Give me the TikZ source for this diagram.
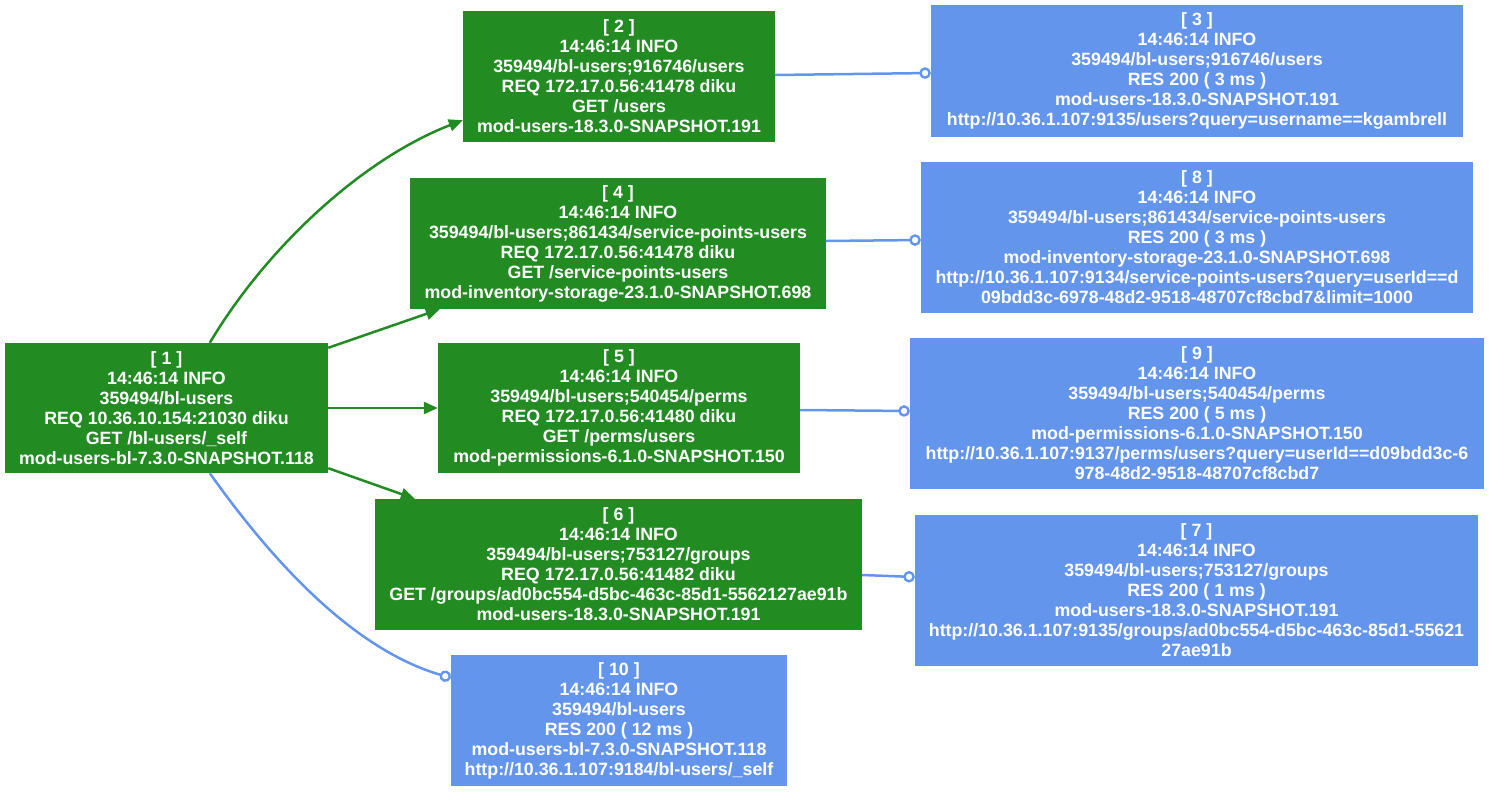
\documentclass[tikz,border=0pt]{standalone}
\usepackage{fontspec}
\setmainfont{Liberation Sans}
\usetikzlibrary{arrows.meta,calc}
\definecolor{reqgreen}{HTML}{228B22}
\definecolor{resblue}{HTML}{6495ED}
\tikzset{
  box/.style={draw=none, inner sep=0pt, text=white, align=center,
    font=\fontsize{17.8}{20}\selectfont\bfseries},
  req/.style={box, fill=reqgreen},
  res/.style={box, fill=resblue},
  call/.style={draw=reqgreen, line width=2.5pt, -{Triangle[length=14pt,width=12pt]}},
  reply/.style={draw=resblue, line width=2.5pt, -{Circle[open,length=11.5pt,width=11.5pt,line width=2.4pt]}},
}
\begin{document}
\begin{tikzpicture}[x=1pt,y=-1pt]
\useasboundingbox (0,0) rectangle (1489,792);
\node[req, minimum width=323pt, minimum height=130pt] (n1) at (166.5,408)
  {[ 1 ]\\14:46:14 INFO\\359494/bl-users\\REQ 10.36.10.154:21030 diku\\GET /bl-users/\_self\\mod-users-bl-7.3.0-SNAPSHOT.118};
\node[req, minimum width=312pt, minimum height=131pt] (n2) at (619,76.5)
  {[ 2 ]\\14:46:14 INFO\\359494/bl-users;916746/users\\REQ 172.17.0.56:41478 diku\\GET /users\\mod-users-18.3.0-SNAPSHOT.191};
\node[res, minimum width=532pt, minimum height=132pt] (n3) at (1197,71)
  {[ 3 ]\\14:46:14 INFO\\359494/bl-users;916746/users\\RES 200 ( 3 ms )\\mod-users-18.3.0-SNAPSHOT.191\\http://10.36.1.107:9135/users?query=username==kgambrell};
\node[req, minimum width=416pt, minimum height=131pt] (n4) at (618,243.5)
  {[ 4 ]\\14:46:14 INFO\\359494/bl-users;861434/service-points-users\\REQ 172.17.0.56:41478 diku\\GET /service-points-users\\mod-inventory-storage-23.1.0-SNAPSHOT.698};
\node[res, minimum width=552pt, minimum height=151pt] (n8) at (1197,237.5)
  {[ 8 ]\\14:46:14 INFO\\359494/bl-users;861434/service-points-users\\RES 200 ( 3 ms )\\mod-inventory-storage-23.1.0-SNAPSHOT.698\\http://10.36.1.107:9134/service-points-users?query=userId==d\\09bdd3c-6978-48d2-9518-48707cf8cbd7\&limit=1000};
\node[req, minimum width=362pt, minimum height=130pt] (n5) at (619,408)
  {[ 5 ]\\14:46:14 INFO\\359494/bl-users;540454/perms\\REQ 172.17.0.56:41480 diku\\GET /perms/users\\mod-permissions-6.1.0-SNAPSHOT.150};
\node[res, minimum width=574pt, minimum height=151pt] (n9) at (1197,413.5)
  {[ 9 ]\\14:46:14 INFO\\359494/bl-users;540454/perms\\RES 200 ( 5 ms )\\mod-permissions-6.1.0-SNAPSHOT.150\\http://10.36.1.107:9137/perms/users?query=userId==d09bdd3c-6\\978-48d2-9518-48707cf8cbd7};
\node[req, minimum width=487pt, minimum height=131pt] (n6) at (618.5,564.5)
  {[ 6 ]\\14:46:14 INFO\\359494/bl-users;753127/groups\\REQ 172.17.0.56:41482 diku\\GET /groups/ad0bc554-d5bc-463c-85d1-5562127ae91b\\mod-users-18.3.0-SNAPSHOT.191};
\node[res, minimum width=563pt, minimum height=151pt] (n7) at (1196.5,590.5)
  {[ 7 ]\\14:46:14 INFO\\359494/bl-users;753127/groups\\RES 200 ( 1 ms )\\mod-users-18.3.0-SNAPSHOT.191\\http://10.36.1.107:9135/groups/ad0bc554-d5bc-463c-85d1-55621\\27ae91b};
\node[res, minimum width=336pt, minimum height=131pt] (n10) at (619,720.5)
  {[ 10 ]\\14:46:14 INFO\\359494/bl-users\\RES 200 ( 12 ms )\\mod-users-bl-7.3.0-SNAPSHOT.118\\http://10.36.1.107:9184/bl-users/\_self};
% calls
\draw[call] ($(n1.north west)+(205,0)$) .. controls (265,250) and (360,160) .. ($(n2.south west)+(0,-22)$);
\draw[call] ($(n1.north east)+(0,5)$) -- ($(n4.south west)+(30,0)$);
\draw[call] (n1.east) -- (n5.west);
\draw[call] ($(n1.south east)+(0,-5)$) -- ($(n6.north west)+(40,0)$);
% replies
\draw[reply] ($(n1.south west)+(205,0)$) .. controls (275,565) and (355,650) .. ($(n10.north west)+(0,23)$);
\draw[reply] ($(n2.east)+(0,-1.5)$) -- ($(n3.west)+(0,2)$);
\draw[reply] ($(n4.east)+(0,-2.5)$) -- ($(n8.west)+(0,2.5)$);
\draw[reply] ($(n5.east)+(0,2)$) -- ($(n9.west)+(0,-2.5)$);
\draw[reply] ($(n6.east)+(0,10.5)$) -- ($(n7.west)+(0,-13.5)$);
\end{tikzpicture}
\end{document}
